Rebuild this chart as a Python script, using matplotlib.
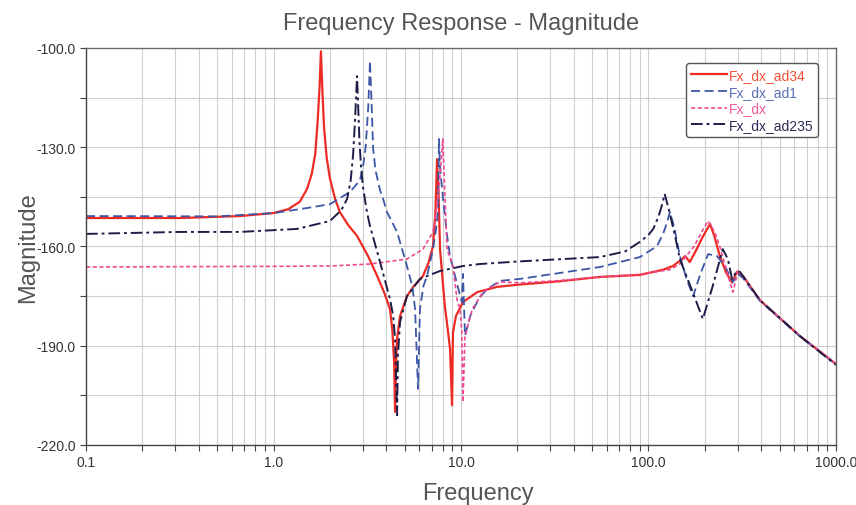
import numpy as np
import matplotlib.pyplot as plt
from matplotlib.ticker import FixedLocator, FixedFormatter, NullFormatter

plt.rcParams["font.family"] = ["Liberation Sans", "DejaVu Sans"]

# ─── Data ────────────────────────────────────────────────────────────
freq_ad34 = [0.1, 0.317, 0.662, 1.0, 1.2, 1.38, 1.51, 1.6, 1.67, 1.72, 1.76, 1.79, 1.82,
             1.86, 1.92, 2.0, 2.13, 2.26, 2.5, 2.79, 3.2, 3.57, 3.9, 4.18, 4.3, 4.4, 4.45,
             4.5, 4.56, 4.73, 5.15, 5.6, 6.27, 6.7, 7.09, 7.3, 7.45, 7.6, 7.73, 8.0, 8.2,
             8.5, 8.74, 8.96, 9.06, 9.4, 10.25, 12.2, 15.6, 20.6, 33.7, 55.1, 90, 120, 135,
             150, 157, 166, 180, 195, 213, 225, 240, 260, 279, 296, 319, 394, 643, 1000]
mag_ad34 = [-151.4, -151.4, -150.8, -149.9, -148.7, -146.5, -142.6, -138.0, -132.0, -122.0,
            -112.0, -101.0, -112.0, -124.0, -133.0, -139.5, -145.6, -149.6, -153.5, -156.8,
            -163.0, -168.9, -174.0, -178.9, -185.0, -195.0, -210.0, -196.0, -188.0, -181.0,
            -175.0, -172.0, -168.9, -165.0, -159.9, -150.0, -133.6, -145.0, -160.8, -171.0,
            -178.0, -185.0, -191.0, -208.0, -186.0, -181.0, -176.8, -173.8, -172.2, -171.5,
            -170.5, -169.2, -168.6, -167.0, -165.9, -164.0, -162.9, -164.7, -161.0, -157.0,
            -153.2, -157.0, -162.9, -168.0, -170.9, -167.7, -168.9, -176.3, -187.1, -195.5]

freq_ad1 = [0.1, 0.5, 1.0, 1.5, 2.0, 2.56, 2.89, 3.0, 3.1, 3.2, 3.27, 3.34, 3.40, 3.5,
            3.7, 3.84, 4.03, 4.56, 5.15, 5.5, 5.69, 5.90, 6.04, 6.3, 6.59, 7.09, 7.35, 7.54,
            7.63, 7.73, 8.02, 8.4, 8.74, 9.5, 10.1, 10.25, 10.5, 11.2, 12.5, 13.8, 16.1,
            20.6, 33.7, 55.1, 90, 111, 120, 126, 130, 137, 147, 160, 173, 190, 208, 232,
            256, 282, 300, 319, 394, 643, 1000]
mag_ad1 = [-150.8, -150.9, -149.9, -148.4, -147.2, -143.5, -140.0, -136.0, -130.0, -118.0,
           -103.9, -118.0, -130.5, -137.0, -143.0, -145.6, -149.6, -155.6, -165.9, -172.0,
           -178.9, -203.0, -178.9, -172.0, -168.9, -160.8, -155.0, -149.6, -127.5, -136.0,
           -145.6, -156.0, -162.9, -171.0, -176.8, -168.3, -187.0, -181.0, -175.5, -172.9,
           -170.4, -169.8, -168.0, -166.2, -163.2, -159.9, -156.0, -152.5, -149.6, -154.0,
           -162.9, -170.0, -175.0, -168.0, -162.3, -162.9, -166.0, -170.7, -168.3, -169.5,
           -176.5, -187.2, -195.6]

freq_dx = [0.1, 1.0, 2.0, 3.27, 5.15, 6.27, 7.09, 7.54, 7.8, 8.0, 8.22, 8.42, 9.06, 9.52,
           9.88, 10.1, 10.25, 10.5, 11.5, 13.1, 16.1, 20.6, 33.7, 55.1, 90, 130, 147, 175,
           195, 208, 225, 240, 260, 282, 300, 319, 394, 643, 1000]
mag_dx = [-166.2, -166.0, -165.9, -165.3, -163.8, -160.8, -155.6, -145.6, -136.0, -127.5,
          -145.6, -160.8, -165.9, -175.9, -178.9, -185.9, -207.0, -187.1, -178.9, -173.8,
          -170.7, -171.0, -170.3, -169.2, -168.4, -167.0, -165.3, -160.0, -155.0, -152.3,
          -155.5, -160.0, -167.0, -173.8, -167.4, -169.0, -176.3, -187.0, -195.5]

freq_ad235 = [0.1, 0.317, 0.662, 1.33, 2.0, 2.3, 2.47, 2.58, 2.66, 2.72, 2.79, 2.83, 2.87,
              2.93, 3.0, 3.15, 3.27, 3.70, 4.18, 4.35, 4.45, 4.56, 4.61, 4.73, 5.15, 6.04,
              7.73, 10.25, 12.6, 20.6, 55.1, 75, 90, 100, 106, 113, 118, 122, 130, 140, 147,
              170, 195, 220, 249, 265, 279, 296, 308, 394, 643, 1000]
mag_ad235 = [-156.2, -155.6, -155.6, -154.7, -152.3, -149.0, -145.6, -140.0, -132.0, -122.0,
             -108.5, -118.0, -127.5, -136.0, -142.0, -149.6, -153.8, -164.7, -175.9, -181.0,
             -188.0, -211.0, -193.0, -182.8, -175.0, -169.8, -167.4, -165.9, -165.3, -164.5,
             -163.2, -161.5, -158.6, -156.5, -154.7, -151.0, -147.5, -144.1, -150.0, -158.0,
             -163.8, -173.0, -181.9, -172.0, -160.8, -163.8, -169.8, -167.4, -167.7, -176.3,
             -187.1, -195.8]

series = [
    ("Fx_dx_ad34", freq_ad34, mag_ad34, "#EC2B24", "-", 1.6),
    ("Fx_dx_ad1", freq_ad1, mag_ad1, "#3D56A6", (0, (5, 2.5)), 1.3),
    ("Fx_dx", freq_dx, mag_dx, "#EE4B93", (0, (2.5, 1.5)), 1.2),
    ("Fx_dx_ad235", freq_ad235, mag_ad235, "#1C1E48", (0, (6, 2, 1.5, 2)), 1.4),
]
text_colors = ["#F0503A", "#5A6DB5", "#EE5A9C", "#2A2C55"]

x_major = [0.1, 1.0, 10.0, 100.0, 1000.0]
x_major_labels = ["0.1", "1.0", "10.0", "100.0", "1000.0"]
y_major = [-220, -190, -160, -130, -100]

fig = plt.figure(figsize=(8.56, 5.06), dpi=100)
ax = fig.add_axes([0.1005, 0.1186, 0.8761, 0.7846])

for name, f, m, c, ls, lw in series:
    ax.plot(f, m, color=c, linestyle=ls, linewidth=lw, label=name)

ax.set_xscale("log")
ax.set_xlim(0.1, 1000)
ax.set_ylim(-220, -100)

minor_x = [k * d for d in [0.1, 1, 10, 100] for k in range(2, 10)]
ax.xaxis.set_major_locator(FixedLocator(x_major))
ax.xaxis.set_major_formatter(FixedFormatter(x_major_labels))
ax.xaxis.set_minor_locator(FixedLocator(minor_x))
ax.xaxis.set_minor_formatter(NullFormatter())
ax.set_yticks(y_major)
ax.set_yticklabels([f"{v:.1f}" for v in y_major])
ax.set_yticks([-205, -175, -145, -115], minor=True)

ax.grid(True, which="both", color="#CFCFCF", linewidth=0.8)
ax.set_axisbelow(True)
for sp in ax.spines.values():
    sp.set_color("#6A6A6A")
    sp.set_linewidth(1.0)
ax.spines["left"].set_color("#444444")
ax.spines["bottom"].set_color("#444444")
ax.tick_params(which="both", direction="out", color="#444444", labelcolor="#333333",
               labelsize=10, length=4, width=0.8)

ax.set_title("Frequency Response - Magnitude", fontsize=17, color="#555555", pad=14)
ax.set_xlabel("Frequency", fontsize=17, color="#555555")
ax.set_ylabel("Magnitude", fontsize=17, color="#555555")
ax.xaxis.set_label_coords(0.523, -0.093)
ax.yaxis.set_label_coords(-0.062, 0.5)

leg = ax.legend(loc="upper right", bbox_to_anchor=(0.976, 0.962), borderaxespad=0,
                fontsize=10, handlelength=2.6, handletextpad=0.1, labelspacing=0.2,
                borderpad=0.35, fancybox=True, framealpha=1, edgecolor="#555555")
leg.get_frame().set_linewidth(1.0)
for t, c in zip(leg.get_texts(), text_colors):
    t.set_color(c)

fig.savefig("out.png", dpi=100)
